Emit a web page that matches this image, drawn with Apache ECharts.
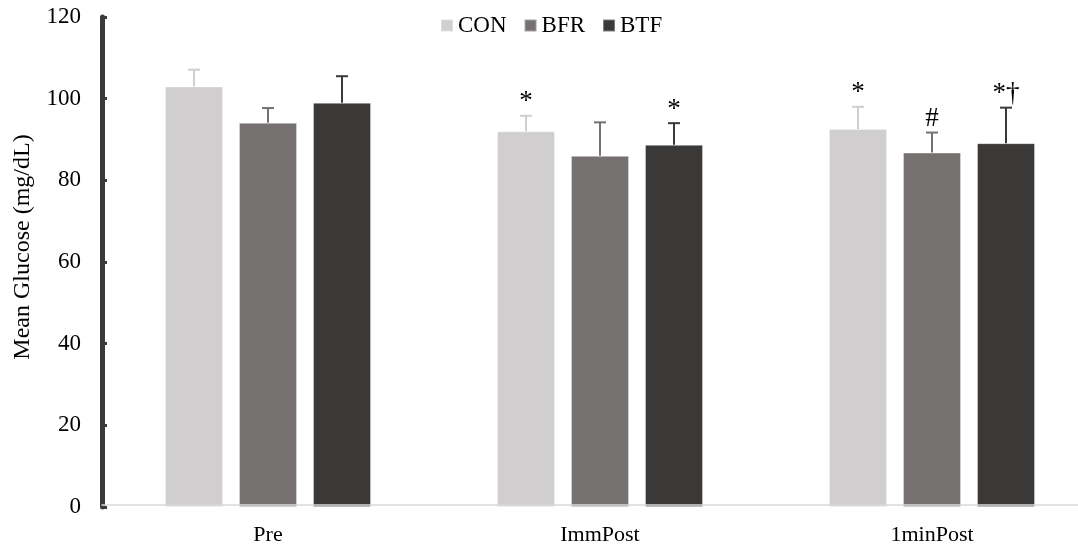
<!DOCTYPE html>
<html>
<head>
<meta charset="utf-8">
<script src="https://cdn.jsdelivr.net/npm/echarts@6/dist/echarts.min.js"></script>
<style>
  html, body { margin: 0; padding: 0; background: #fff; }
  #chart { width: 1078px; height: 548px; }
</style>
</head>
<body>
<div id="chart"></div>
<script>
const categories = ["Pre", "ImmPost", "1minPost"];
const groups = ["CON", "BFR", "BTF"];
const conMean = [103.0, 92.0, 92.6];
const conSd = [4.1, 3.8, 5.4];
const bfrMean = [94.1, 86.0, 86.8];
const bfrSd = [3.6, 8.2, 4.9];
const btfMean = [99.0, 88.7, 89.1];
const btfSd = [6.5, 5.3, 8.7];
const conMarks = ["", "*", "*"];
const bfrMarks = ["", "", "#"];
const btfMarks = ["", "*", "*†"];

const colors = ["#d0cece", "#767171", "#3b3838"];
const font = "'Liberation Serif', 'Times New Roman', serif";
const barWidth = 58;
const step = 74; // bar width + gap, px

const means = [conMean, bfrMean, btfMean];
const sds = [conSd, bfrSd, btfSd];
const marks = [conMarks, bfrMarks, btfMarks];

let myChart = echarts.init(document.getElementById("chart"));

function errorSeries(k) {
  const data = categories.map((c, i) => [i, means[k][i], means[k][i] + sds[k][i], marks[k][i]]);
  return {
    type: "custom",
    name: groups[k] + " err",
    z: 3,
    data: data,
    renderItem: function (params, api) {
      const top = api.coord([api.value(0), api.value(2)]);
      const base = api.coord([api.value(0), api.value(1)]);
      const x = top[0] + (k - 1) * step;
      const children = [
        {
          type: "line",
          shape: { x1: x, y1: base[1], x2: x, y2: top[1] },
          style: { stroke: colors[k], lineWidth: 2 },
        },
        {
          type: "line",
          shape: { x1: x - 6, y1: top[1], x2: x + 6, y2: top[1] },
          style: { stroke: colors[k], lineWidth: 2 },
        },
      ];
      const m = data[params.dataIndex][3];
      if (m) {
        children.push({
          type: "text",
          style: {
            text: m,
            x: x,
            y: top[1],
            align: "center",
            verticalAlign: "bottom",
            fontSize: 27,
            fontFamily: font,
            fill: "#000",
          },
        });
      }
      return { type: "group", children: children };
    },
  };
}

let option = {
  animation: false,
  color: colors,
  legend: {
    data: groups,
    top: 9,
    left: 435,
    icon: "rect",
    itemWidth: 12,
    itemHeight: 12,
    itemGap: 17,
    textStyle: { fontSize: 23, fontFamily: font, color: "#000" },
  },
  grid: {
    left: 102,
    right: -20,
    top: 17,
    bottom: 41,
    outerBoundsMode: "none",
  },
  xAxis: {
    type: "category",
    data: categories,
    z: 5,
    offset: -2,
    axisLine: { lineStyle: { color: "#d9d9d9", width: 1.5 } },
    axisTick: { show: false },
    axisLabel: { fontSize: 22, fontFamily: font, color: "#000", margin: 19 },
  },
  yAxis: {
    type: "value",
    min: 0,
    max: 120,
    interval: 20,
    name: "Mean Glucose (mg/dL)",
    nameLocation: "middle",
    nameGap: 67,
    nameTextStyle: { fontSize: 24, fontFamily: font, color: "#000", padding: [0, 0, 0, 30] },
    axisLine: { show: true, lineStyle: { color: "#3b3b3b", width: 5 } },
    axisTick: { show: true, inside: true, length: 5, lineStyle: { color: "#3b3b3b", width: 3 } },
    splitLine: { show: false },
    axisLabel: { fontSize: 23, fontFamily: font, color: "#000", margin: 21 },
  },
  series: [
    ...groups.map((g, k) => ({
      name: g,
      type: "bar",
      data: means[k],
      barWidth: barWidth,
      barGap: "27.6%",
      itemStyle: { color: colors[k], borderColor: "rgba(255,255,255,0.35)", borderWidth: 1 },
    })),
    errorSeries(0),
    errorSeries(1),
    errorSeries(2),
  ],
};
myChart.setOption(option);
</script>
</body>
</html>
